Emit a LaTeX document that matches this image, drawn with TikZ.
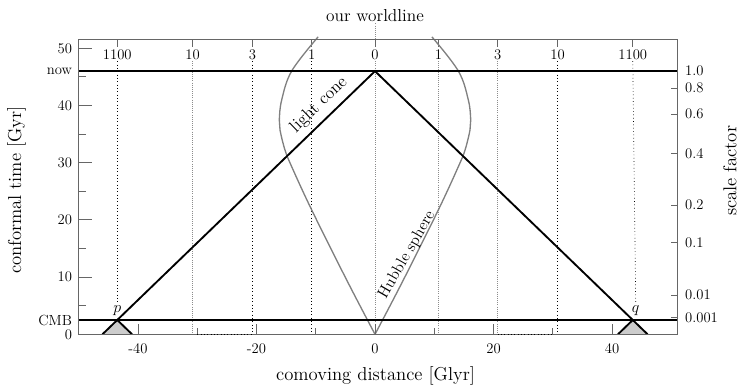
\documentclass[tikz,border=0pt]{standalone}
\tikzset{
  frame/.style={draw=black!60, line width=0.6pt},
  tickm/.style={draw=black!60, line width=0.6pt},
  cone/.style={draw=black, line width=1.4pt},
  hub/.style={draw=black!50, line width=1pt},
  gridB/.style={draw=black, dotted, line width=0.5pt},
  gridG/.style={draw=black!45, densely dotted, line width=0.6pt},
  ticklbl/.style={font=\fontsize{11}{13}\selectfont, inner sep=0pt},
  axlbl/.style={font=\fontsize{14}{16}\selectfont, inner sep=0pt},
  ptlbl/.style={font=\fontsize{12}{14}\selectfont, anchor=base, inner sep=1pt},
}
\begin{document}
\begin{tikzpicture}[x=4.44375pt, y=4.29pt]
\useasboundingbox (-63.29,-8.86) rectangle (61.43,58.44);
% key points
\coordinate (now) at (0,46);
\coordinate (p) at (-43.5,2.5);
\coordinate (q) at (43.5,2.5);
\coordinate (pL) at (-46,0);
\coordinate (pR) at (-41,0);
\coordinate (qL) at (41,0);
\coordinate (qR) at (46,0);
\coordinate (BL) at (-50,0);
\coordinate (BR) at (51.1,0);
\coordinate (TL) at (-50,51.6);
\coordinate (TR) at (51.1,51.6);
\coordinate (O) at (0,0);

% past light cones of p and q
\fill[black!20] (pL) -- (p) -- (pR) -- cycle;
\fill[black!20] (qL) -- (q) -- (qR) -- cycle;

% top redshift labels and ticks
\foreach \nm/\xx/\tx in {a/-43.5/1100, b/-30.8/10, c/-20.7/3, d/-10.7/1, e/0/0, f/10.7/1, g/20.7/3, h/30.8/10, i/43.5/1100} {
  \node[ticklbl, anchor=base, inner sep=1pt] (z\nm) at (\xx,48.08) {\tx};
  \draw[tickm] (\xx,51.6) -- (\xx,50.3);
}
\node[ptlbl] (pl) at (-43.5,3.85) {$p$};
\node[ptlbl] (ql) at (44,3.85) {$q$};

% vertical dotted worldlines
\draw[gridB] (za.south) -- (pl.north);
\draw[gridB] (zi.south) -- (ql.north);
\draw[gridG] (zb.south) -- (zb.south |- BL);
\draw[gridB] (zc.south) -- (zc.south |- BL);
\draw[gridB] (zd.south) -- (zd.south |- BL);
\draw[gridG] (ze.south) -- (O);
\draw[gridG] (zf.south) -- (zf.south |- BL);
\draw[gridG] (zg.south) -- (zg.south |- BL);
\draw[gridB] (zh.south) -- (zh.south |- BL);

% Hubble sphere
\draw[hub] plot[smooth, tension=0.6] coordinates {(0,0) (4.78,9.49) (10.68,21.73) (14.06,29.3) (15.19,32.2) (16.03,35.7) (16.15,37.46) (15.75,40.96) (14.06,46.03) (9.6,52.0)};
\draw[hub] plot[smooth, tension=0.6] coordinates {(0,0) (-4.78,9.49) (-10.68,21.73) (-14.06,29.3) (-15.19,32.2) (-16.03,35.7) (-16.15,37.46) (-15.75,40.96) (-14.06,46.03) (-9.6,52.0)};

% light cone
\draw[cone] (pL) -- (now) -- (qR);
\draw[cone] (p) -- (pR);
\draw[cone] (q) -- (qL);

% now and CMB lines
\draw[cone] (-50,46) -- (51.1,46);
\draw[cone] (-50,2.5) -- (51.1,2.5);

% frame
\draw[frame] (BL) rectangle (TR);
\draw[gridB] (-30,0) -- (-20.7,0);
\draw[gridB] (20.7,0) -- (30,0);

% left ticks and labels
\foreach \yy in {0,10,20,30,40,50} {
  \draw[tickm] (-50,\yy) -- (-47.7,\yy);
}
\foreach \yy in {5,15,25,35,45} {
  \draw[tickm] (-50,\yy) -- (-48.85,\yy);
}
\foreach \nm/\yy/\tx in {l0/0/0, l10/10/10, l20/20/20, l30/30/30, l40/40/40, l50/50/50, lnow/46/now, lcmb/2.5/CMB} {
  \node[ticklbl, anchor=east] (\nm) at (-51.1,\yy) {\tx};
}

% bottom ticks and labels
\foreach \xx in {-40,-20,0,20,40} {
  \draw[tickm] (\xx,0) -- (\xx,1.75);
}
\foreach \xx in {-30,-10,10,30} {
  \draw[tickm] (\xx,0) -- (\xx,1.05);
}
\foreach \nm/\xx/\tx in {bm40/-40/-40, bm20/-20/-20, b0/0/0, b20/20/20, b40/40/40} {
  \node[ticklbl, anchor=base] (\nm) at (\xx,-3.3) {\tx};
}

% right scale factor ticks and labels
\foreach \nm/\yy/\tx in {r08/43.06/0.8, r06/38.5/0.6, r04/31.64/0.4, r02/22.6/0.2, r01/16.0/0.1, r001/6.87/0.01, r0001/2.97/0.001} {
  \draw[tickm] (51.1,\yy) -- (50.0,\yy);
  \node[ticklbl, anchor=west] (\nm) at (52.3,\yy) {\tx};
}
\node[ticklbl, anchor=west] (r10) at (52.3,46) {1.0};

% axis labels
\node[axlbl, rotate=90] (ylab) at (-60.5,25.2) {conformal time [Gyr]};
\node[axlbl, rotate=90] (y2lab) at (59.88,28.58) {scale factor};
\node[axlbl, anchor=base] (xlab) at (0.1,-8.0) {comoving distance [Glyr]};
\node[font=\fontsize{13}{15}\selectfont, anchor=base, inner sep=1pt] (wl) at (0,54.65) {our worldline};
\draw[gridG] (wl.south) -- (0,51.6);

% curve labels
\node[font=\fontsize{13}{15}\selectfont, rotate=44, inner sep=0pt] (lclab) at (-9.45,40.1) {light cone};
\node[font=\fontsize{12}{14}\selectfont, rotate=60, inner sep=0pt] (hslab) at (5.4,13.86) {Hubble sphere};
\end{tikzpicture}
\end{document}
